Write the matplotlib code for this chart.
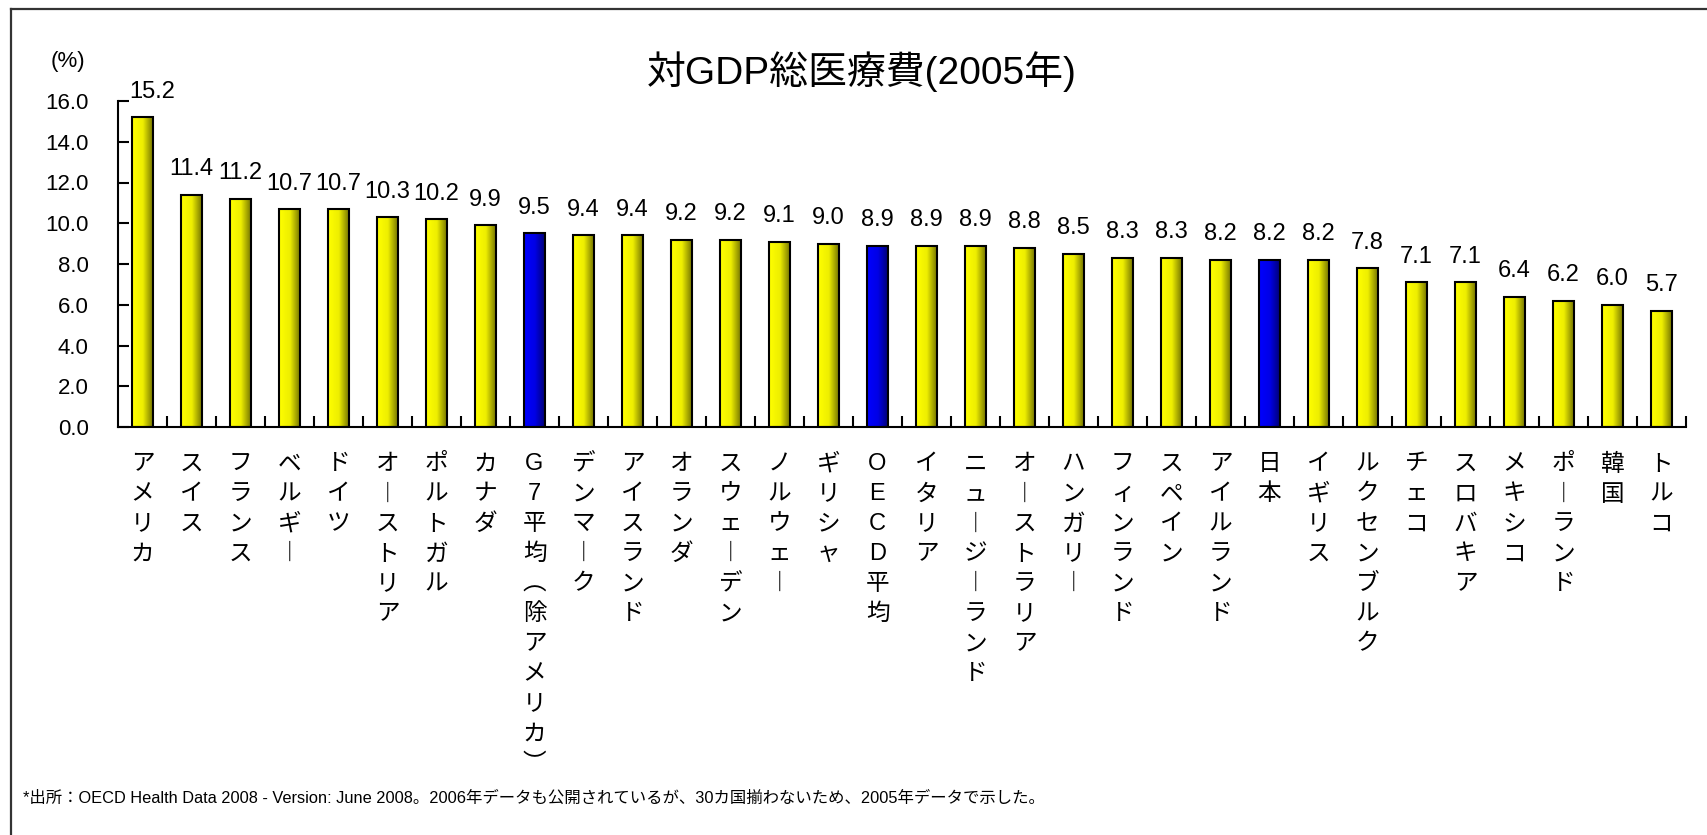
import matplotlib
matplotlib.use('Agg')
import matplotlib.pyplot as plt
import numpy as np
from matplotlib.colors import LinearSegmentedColormap
from matplotlib.lines import Line2D
from matplotlib.ticker import FixedLocator, FormatStrFormatter

# ---------------- data ----------------
countries = ['アメリカ', 'スイス', 'フランス', 'ベルギー', 'ドイツ', 'オーストリア',
             'ポルトガル', 'カナダ', 'G7平均（除アメリカ）', 'デンマーク', 'アイスランド',
             'オランダ', 'スウェーデン', 'ノルウェー', 'ギリシャ', 'OECD平均', 'イタリア',
             'ニュージーランド', 'オーストラリア', 'ハンガリー', 'フィンランド', 'スペイン',
             'アイルランド', '日本', 'イギリス', 'ルクセンブルク', 'チェコ', 'スロバキア',
             'メキシコ', 'ポーランド', '韓国', 'トルコ']
values = [15.2, 11.4, 11.2, 10.7, 10.7, 10.3, 10.2, 9.9, 9.5, 9.4, 9.4, 9.2, 9.2,
          9.1, 9.0, 8.9, 8.9, 8.9, 8.8, 8.5, 8.3, 8.3, 8.2, 8.2, 8.2, 7.8, 7.1, 7.1,
          6.4, 6.2, 6.0, 5.7]
highlight = ['G7平均（除アメリカ）', 'OECD平均', '日本']
yticks = [0, 2, 4, 6, 8, 10, 12, 14, 16]
title = '対GDP総医療費(2005年)'
unit = '(%)'
note = ('*出所：OECD Health Data 2008 - Version: June 2008。2006年データも公開されているが、'
        '30カ国揃わないため、2005年データで示した。')

plt.rcParams['font.family'] = ['Liberation Sans', 'Noto Sans CJK JP', 'DejaVu Sans']

W, H = 1708, 835
fig = plt.figure(figsize=(W / 100, H / 100), dpi=100)
ax = fig.add_axes([118 / W, 1 - 427 / H, (1686 - 118) / W, (427 - 101) / H])

x = np.arange(len(countries))
bars = ax.bar(x, values, width=0.43, facecolor='none', edgecolor='black',
              linewidth=1.5, zorder=3)

yellow = LinearSegmentedColormap.from_list('yel', ['#FFFF00', '#EEEE00', '#6A6A00'])
blue = LinearSegmentedColormap.from_list('blu', ['#0000FF', '#0000E6', '#00006A'])
grad = np.linspace(0, 1, 256).reshape(1, -1)
for name, rect in zip(countries, bars.patches):
    cmap = blue if name in highlight else yellow
    x0, w, h = rect.get_x(), rect.get_width(), rect.get_height()
    ax.imshow(grad, extent=(x0, x0 + w, 0, h), aspect='auto', cmap=cmap,
              zorder=2, interpolation='bilinear')

for i, (rect, v) in enumerate(zip(bars.patches, values)):
    dx = 7 if i == 0 else 0   # first label nudged right of the value axis
    ax.annotate(f'{v:.1f}', (rect.get_x() + rect.get_width() / 2, v),
                xytext=(dx, 14), textcoords='offset points', ha='center',
                va='baseline', fontsize=17, annotation_clip=False)

ax.set_xlim(-0.5, len(countries) - 0.5)
ax.set_ylim(0, 16)

vmap = {'ー': '︱', '（': '︵', '）': '︶'}
def vert(s):
    return '\n'.join(vmap.get(c, c) for c in s)

ax.set_xticks(x)
ax.set_xticklabels([vert(c) for c in countries], fontsize=17, linespacing=1.47,
                   va='top', ha='center', multialignment='center')
ax.tick_params(axis='x', which='major', length=0, pad=19)
ax.xaxis.set_minor_locator(FixedLocator(np.arange(0.5, len(countries), 1)))
ax.tick_params(axis='x', which='minor', direction='in', length=8, width=1.5)

ax.set_yticks(yticks)
ax.yaxis.set_major_formatter(FormatStrFormatter('%.1f'))
ax.tick_params(axis='y', direction='in', length=8, width=1.5, pad=21, labelsize=16)

for s in ['top', 'right']:
    ax.spines[s].set_visible(False)
for s in ['left', 'bottom']:
    ax.spines[s].set_linewidth(1.5)

fig.text(862 / W, 1 - 72 / H, title, fontsize=28, ha='center', va='center')
fig.text(68 / W, 1 - 61 / H, unit, fontsize=16, ha='center', va='center')
fig.text(23 / W, 1 - 798 / H, note, fontsize=11.8, ha='left', va='center')

fig.add_artist(Line2D([11 / W, 11 / W], [0, 1 - 9 / H], color='#333333', lw=1.6,
                      transform=fig.transFigure))
fig.add_artist(Line2D([11 / W, 1], [1 - 9 / H, 1 - 9 / H], color='#333333', lw=1.6,
                      transform=fig.transFigure))

fig.savefig('out.png', dpi=100)
